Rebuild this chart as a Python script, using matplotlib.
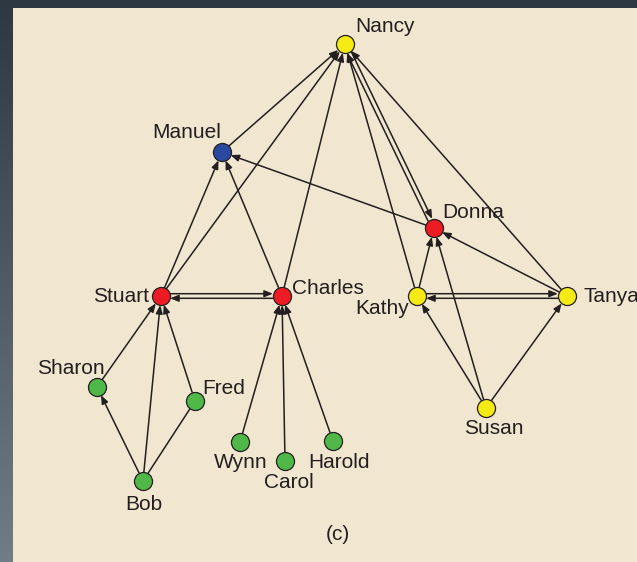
import numpy as np
import matplotlib.pyplot as plt
from matplotlib.patches import FancyArrowPatch, Rectangle
from matplotlib.colors import LinearSegmentedColormap

plt.rcParams['font.family'] = ['Liberation Sans', 'DejaVu Sans']

# node positions (pixel coordinates) and colours
names = ['Nancy', 'Manuel', 'Donna', 'Stuart', 'Charles', 'Kathy', 'Tanya',
         'Sharon', 'Fred', 'Bob', 'Wynn', 'Carol', 'Harold', 'Susan']
node_x = [345, 222, 434, 161, 282, 417, 567, 97, 195, 143, 240, 285, 333, 486]
node_y = [44, 152, 228, 296, 296, 296, 296, 387, 401, 481, 442, 461, 441, 408]
node_col = ['yellow', 'blue', 'red', 'red', 'red', 'yellow', 'yellow',
            'green', 'green', 'green', 'green', 'green', 'green', 'yellow']

# directed edges (source -> target)
edges = [('Manuel', 'Nancy'), ('Stuart', 'Nancy'), ('Charles', 'Nancy'),
         ('Kathy', 'Nancy'), ('Tanya', 'Nancy'), ('Donna', 'Manuel'),
         ('Stuart', 'Manuel'), ('Charles', 'Manuel'), ('Kathy', 'Donna'),
         ('Tanya', 'Donna'), ('Susan', 'Donna'), ('Susan', 'Kathy'),
         ('Susan', 'Tanya'), ('Sharon', 'Stuart'), ('Bob', 'Sharon'),
         ('Bob', 'Stuart'), ('Fred', 'Stuart'), ('Wynn', 'Charles'),
         ('Carol', 'Charles'), ('Harold', 'Charles')]
# mutual edges, drawn as two parallel lines
mutual = [('Nancy', 'Donna'), ('Stuart', 'Charles'), ('Kathy', 'Tanya')]
# plain lines without arrow
plain = [('Bob', 'Fred')]

# label placement: (dx, dy, ha)
labels = {
    'Nancy': (10, -17, 'left'), 'Manuel': (-1, -19, 'right'),
    'Donna': (8, -15, 'left'), 'Stuart': (-12, 1, 'right'),
    'Charles': (10, -7, 'left'), 'Kathy': (-8, 13, 'right'),
    'Tanya': (17, 1, 'left'), 'Sharon': (-26, -19, 'center'),
    'Fred': (7, -13, 'left'), 'Bob': (1, 23, 'center'),
    'Wynn': (1, 20, 'center'), 'Carol': (4, 21, 'center'),
    'Harold': (6, 21, 'center'), 'Susan': (8, 20, 'center'),
}

colors = {'yellow': '#f6ea14', 'red': '#ed1c24', 'blue': '#2b48a0', 'green': '#50b848'}
ink = '#231f20'
pos = {n: (x, y) for n, x, y in zip(names, node_x, node_y)}

fig = plt.figure(figsize=(6.37, 5.62), dpi=100)
ax = fig.add_axes([0, 0, 1, 1])
ax.set_xlim(0, 637)
ax.set_ylim(562, 0)
ax.axis('off')

# dark frame with vertical gradient
grad = np.linspace(0, 1, 256).reshape(-1, 1)
cmap = LinearSegmentedColormap.from_list('frame', ['#2d3843', '#707c86'])
ax.imshow(grad, cmap=cmap, extent=[0, 637, 562, 0], aspect='auto', zorder=0)
ax.add_patch(Rectangle((13, 8), 630, 560, facecolor='#f1e6d0', edgecolor='none', zorder=1))


def arrow(p0, p1, head=True):
    style = '-|>,head_length=5,head_width=2' if head else '-'
    a = FancyArrowPatch(p0, p1, arrowstyle=style, color=ink, lw=1.1,
                        shrinkA=6.5, shrinkB=6.5, mutation_scale=1, zorder=2)
    ax.add_patch(a)


for s, t in edges:
    arrow(pos[s], pos[t])
for s, t in plain:
    arrow(pos[s], pos[t], head=False)
for s, t in mutual:
    p0 = np.array(pos[s], float)
    p1 = np.array(pos[t], float)
    d = p1 - p0
    n = np.array([-d[1], d[0]]) / np.hypot(*d) * 2.3
    arrow(p0 - n, p1 - n)
    arrow(p1 + n, p0 + n)

for n, x, y, c in zip(names, node_x, node_y, node_col):
    ax.plot(x, y, 'o', ms=13, mfc=colors[c], mec=ink, mew=0.9, zorder=3)
    dx, dy, ha = labels[n]
    ax.text(x + dx, y + dy, n, ha=ha, va='center', fontsize=15, color=ink, zorder=4)

ax.text(338, 535, '(c)', ha='center', va='center', fontsize=15, color=ink)

fig.savefig('out.png', dpi=100)
